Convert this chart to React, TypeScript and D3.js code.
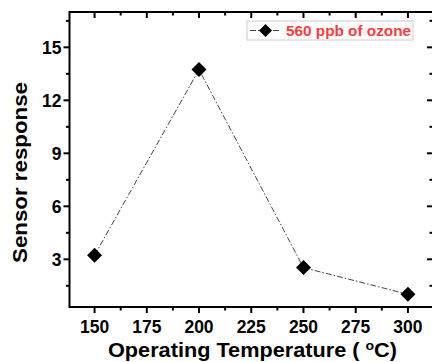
import * as d3 from "d3"

const temps = [150, 200, 250, 300]
const response = [3.23, 13.74, 2.53, 1.02]
const xMajor = [150, 175, 200, 225, 250, 275, 300]
const xMinor = [137.5, 162.5, 187.5, 212.5, 237.5, 262.5, 287.5, 312.5]
const yMajor = [3, 6, 9, 12, 15]
const yMinor = [1.5, 4.5, 7.5, 10.5, 13.5, 16.5]
const legendLabel = "560 ppb of ozone"

const W = 432, H = 362
const L = 69.5, R = 433, T = 12, B = 307
const font = "'Liberation Sans', Arial, sans-serif"

export default function App() {
  const x = d3.scaleLinear().domain([138, 312]).range([L, R])
  const y = d3.scaleLinear().domain([0.3, 17]).range([B, T])
  const pts = temps.map((t, i) => [x(t), y(response[i])] as [number, number])
  const line = d3.line()(pts) ?? ""
  const diamond = (cx: number, cy: number, r = 7.5) =>
    `M${cx},${cy - r}L${cx + r},${cy}L${cx},${cy + r}L${cx - r},${cy}Z`
  const xIn = (v: number) => v >= 138 && v <= 312

  return (
    <svg width={W} height={H} style={{ position: "absolute", left: 0, top: 0, background: "#fff" }} fontFamily={font}>
      <rect x={0} y={0} width={W} height={H} fill="#fff" />
      {/* frame */}
      <rect x={L} y={T} width={R - L} height={B - T} fill="none" stroke="#000" strokeWidth={2} />
      {/* bottom ticks (outward) and top ticks (inward) */}
      {xMajor.map(v => (
        <g key={"xm" + v}>
          <line x1={x(v)} x2={x(v)} y1={B} y2={B + 6} stroke="#000" strokeWidth={2} />
          <line x1={x(v)} x2={x(v)} y1={T} y2={T + 6} stroke="#000" strokeWidth={2} />
          <text x={x(v)} y={333} textAnchor="middle" fontSize={17.5} fontWeight="bold">{v}</text>
        </g>
      ))}
      {xMinor.filter(xIn).map(v => (
        <g key={"xn" + v}>
          <line x1={x(v)} x2={x(v)} y1={B} y2={B + 3.5} stroke="#000" strokeWidth={2} />
          <line x1={x(v)} x2={x(v)} y1={T} y2={T + 3.5} stroke="#000" strokeWidth={2} />
        </g>
      ))}
      {/* left ticks (outward) and right ticks (inward) */}
      {yMajor.map(v => (
        <g key={"ym" + v}>
          <line x1={L - 6} x2={L} y1={y(v)} y2={y(v)} stroke="#000" strokeWidth={2} />
          <line x1={R - 6} x2={R} y1={y(v)} y2={y(v)} stroke="#000" strokeWidth={2} />
          <text x={L - 8} y={y(v) + 6.5} textAnchor="end" fontSize={17.5} fontWeight="bold">{v}</text>
        </g>
      ))}
      {yMinor.map(v => (
        <g key={"yn" + v}>
          <line x1={L - 3.5} x2={L} y1={y(v)} y2={y(v)} stroke="#000" strokeWidth={2} />
          <line x1={R - 3.5} x2={R} y1={y(v)} y2={y(v)} stroke="#000" strokeWidth={2} />
        </g>
      ))}
      {/* data */}
      <path d={line} fill="none" stroke="#444" strokeWidth={1} strokeDasharray="6,2,1.5,2" />
      {pts.map(([cx, cy], i) => <path key={i} d={diamond(cx, cy)} fill="#000" />)}
      {/* legend */}
      <rect x={247} y={21} width={166} height={19} fill="#fff" stroke="#ccc" strokeWidth={1} />
      <line x1={250} x2={281} y1={30.5} y2={30.5} stroke="#444" strokeWidth={1} strokeDasharray="6,2,1.5,2" />
      <path d={diamond(265.5, 30.5, 6.5)} fill="#000" />
      <text x={286} y={36} fontSize={15} fontWeight="bold" fill="#ff3b3b" textLength={125} lengthAdjust="spacingAndGlyphs">{legendLabel}</text>
      {/* titles */}
      <text x={108} y={357} fontSize={20} fontWeight="bold" textLength={289} lengthAdjust="spacingAndGlyphs">
        Operating Temperature ( <tspan dy={-7} fontSize={13}>o</tspan><tspan dy={7}>C)</tspan>
      </text>
      <text transform={`translate(27,263) rotate(-90)`} fontSize={19.5} fontWeight="bold" textLength={181} lengthAdjust="spacingAndGlyphs">Sensor response</text>
    </svg>
  )
}
